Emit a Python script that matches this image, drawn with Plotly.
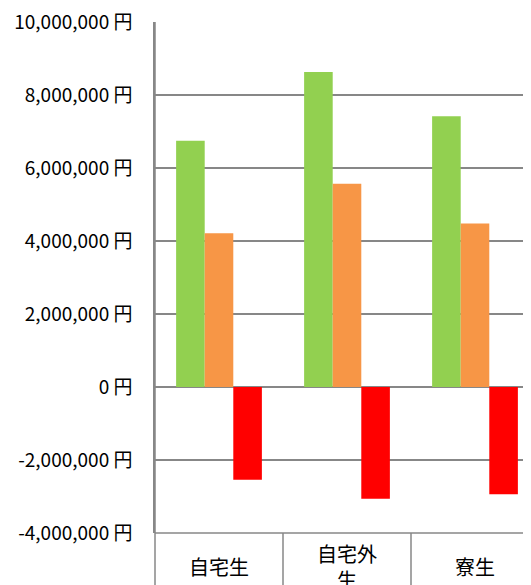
import plotly.graph_objects as go

categories = ["自宅生", "自宅外生", "寮生"]
category_labels = ["自宅生", "自宅外<br>生", "寮生"]
series_green = [6750000, 8630000, 7420000]
series_orange = [4210000, 5570000, 4480000]
series_red = [-2540000, -3060000, -2940000]
tick_values = [-4000000, -2000000, 0, 2000000, 4000000, 6000000, 8000000, 10000000]
tick_labels = ["-4,000,000 円", "-2,000,000 円", "0 円", "2,000,000 円", "4,000,000 円",
               "6,000,000 円", "8,000,000 円", "10,000,000 円"]

FONT = "Noto Sans CJK JP"
GRID = "#878787"

fig = go.Figure()
for vals, col in [(series_green, "#92D050"), (series_orange, "#F79646"), (series_red, "#FF0000")]:
    fig.add_trace(go.Bar(x=categories, y=vals, marker=dict(color=col, line=dict(width=0)),
                         showlegend=False))

# page body has an 8px margin; compensate
W, H = 523, 577
ml, mt, mb = 147, 14, 52
plot_h = H - mt - mb
plot_w = W - ml
cat_px = 128
x_end = -0.5 + plot_w / cat_px

fig.update_layout(
    width=W, height=H,
    margin=dict(l=ml, r=0, t=mt, b=mb, pad=0),
    paper_bgcolor="white", plot_bgcolor="white",
    barmode="group", bargap=0.33, bargroupgap=0,
    font=dict(family=FONT, size=19, color="#000000"),
    xaxis=dict(range=[-0.5, x_end], showticklabels=False, showgrid=False,
               zeroline=False, showline=False, fixedrange=True),
    yaxis=dict(range=[-4000000, 10000000], tickvals=tick_values, ticktext=tick_labels,
               showgrid=True, gridcolor=GRID, gridwidth=1.5, zeroline=True,
               zerolinecolor=GRID, zerolinewidth=1.5, showline=True, linecolor=GRID,
               linewidth=1.5, ticks="", ticklabelstandoff=17, ticklabeloverflow="allow",
               tickfont=dict(family=FONT, size=19, color="#000000")),
)

# bottom category table
lab_h = mb / plot_h
fig.add_shape(type="line", xref="paper", yref="paper", x0=0, x1=0, y0=-lab_h, y1=1,
              line=dict(color=GRID, width=1.5))
fig.add_shape(type="line", xref="paper", yref="paper", x0=0, x1=1, y0=0, y1=0,
              line=dict(color=GRID, width=1.5))
for b in [0.5, 1.5]:
    fig.add_shape(type="line", xref="x", yref="paper", x0=b, x1=b, y0=-lab_h, y1=0,
                  line=dict(color=GRID, width=1.5))
for c, lab in zip(categories, category_labels):
    lines = lab.split("<br>")
    if len(lines) == 1:
        offsets = [33]
    else:
        offsets = [20, 46]
    for ln, off in zip(lines, offsets):
        fig.add_annotation(x=c, xref="x", yref="paper", y=-off / plot_h,
                           text=ln, showarrow=False, yanchor="middle",
                           font=dict(family=FONT, size=20, color="#000000"))

fig.write_html("out.html")
